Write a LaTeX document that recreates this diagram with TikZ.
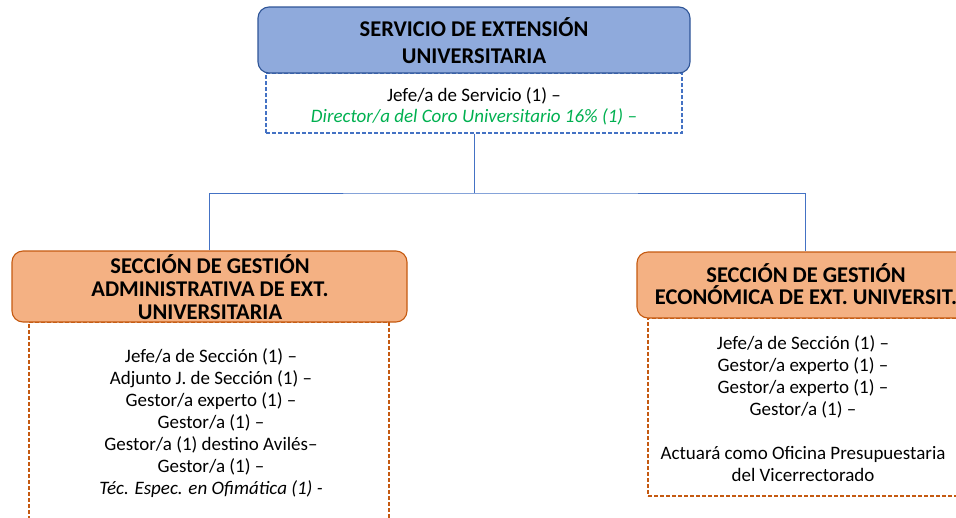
\documentclass[tikz,border=0pt]{standalone}
\usepackage{fontspec}
\setmainfont{Carlito}
\definecolor{hblue}{HTML}{8FAADC}
\definecolor{bblue}{HTML}{2F5597}
\definecolor{lblue}{HTML}{4472C4}
\definecolor{horange}{HTML}{F4B183}
\definecolor{borange}{HTML}{C55A11}
\definecolor{cgreen}{HTML}{00B050}
\begin{document}
\begin{tikzpicture}[x=1pt,y=-1pt,
  bluehead/.style={draw=bblue,fill=hblue,line width=1.1pt,rounded corners=11pt,inner sep=0pt},
  orangehead/.style={draw=borange,fill=horange,line width=1.1pt,rounded corners=11pt,inner sep=0pt},
  bluebody/.style={draw=lblue,line width=1.1pt,dash pattern=on 4pt off 2pt,inner sep=0pt},
  orangebody/.style={draw=borange,line width=1.1pt,dash pattern=on 4pt off 2pt,inner sep=0pt},
  headtxt/.style={align=center,inner sep=0pt},
  bodytxt/.style={align=center,font=\fontsize{19}{22}\selectfont,inner sep=0pt},
  conn/.style={draw=lblue,line width=1pt}]
\useasboundingbox (0,0) rectangle (956,517);
\clip (0,0) rectangle (956,517);
% top
\node[bluebody,minimum width=416pt,minimum height=60pt] (topbody) at (474,103) {};
\node[bluehead,minimum width=432pt,minimum height=66pt] (tophead) at (474,40) {};
\node[headtxt,font=\fontsize{22.5}{27}\selectfont\bfseries] (toptxt) at (474,41) {SERVICIO DE EXTENSIÓN\\UNIVERSITARIA};
\node[bodytxt,font=\fontsize{19}{21}\selectfont] (topbtxt) at (474,106) {Jefe/a de Servicio (1) –\\\textcolor{cgreen}{\itshape Director/a del Coro Universitario 16\% (1) –}};
% left
\node[orangebody,minimum width=360pt,minimum height=220pt] (leftbody) at (209,432) {};
\node[orangehead,minimum width=395pt,minimum height=71pt] (lefthead) at (209.5,286.5) {};
\node[headtxt,font=\fontsize{22.5}{23}\selectfont\bfseries] (lefttxt) at (210,287) {SECCIÓN DE GESTIÓN\\ADMINISTRATIVA DE EXT.\\UNIVERSITARIA};
\node[bodytxt] (leftbtxt) at (211,423) {Jefe/a de Sección (1) –\\Adjunto J. de Sección (1) –\\Gestor/a experto (1) –\\Gestor/a (1) –\\Gestor/a (1) destino Avilés–\\Gestor/a (1) –\\\itshape Téc. Espec. en Ofimática (1) -};
% right
\node[orangebody,minimum width=314pt,minimum height=178pt] (rightbody) at (805,407) {};
\node[orangehead,minimum width=336pt,minimum height=66pt] (righthead) at (805,285) {};
\node[headtxt,font=\fontsize{22.5}{22}\selectfont\bfseries] (righttxt) at (806,284) {SECCIÓN DE GESTIÓN\\ECONÓMICA DE EXT. UNIVERSIT.};
\node[bodytxt] (rightbtxt) at (803,409) {Jefe/a de Sección (1) –\\Gestor/a experto (1) –\\Gestor/a experto (1) –\\Gestor/a (1) –\\[22pt]Actuará como Oficina Presupuestaria\\del Vicerrectorado};
% connectors
\coordinate (bus) at (topbody.south |- 0,193);
\draw[conn] (topbody.south) -- (bus);
\draw[conn] (lefthead.north) |- (bus) -| (righthead.north);
\end{tikzpicture}
\end{document}
